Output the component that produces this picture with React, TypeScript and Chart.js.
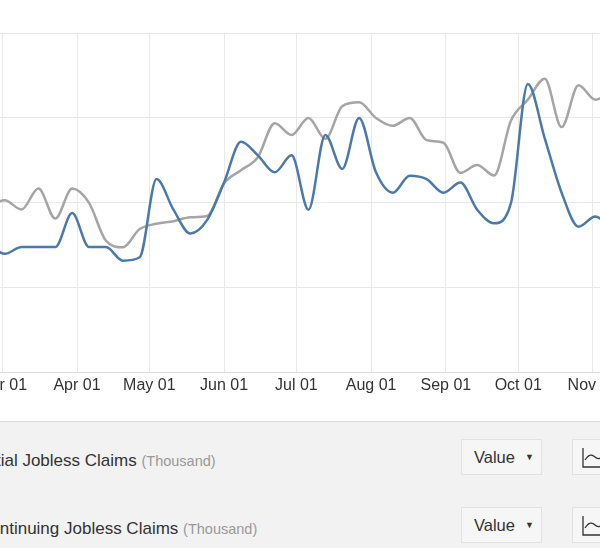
import React, { useEffect, useRef } from "react";
import { Chart, registerables } from "chart.js";

Chart.register(...registerables);

// Week-ending dates (2024)
const weekEnding = [
  "2024-02-24", "2024-03-02", "2024-03-09", "2024-03-16", "2024-03-23", "2024-03-30",
  "2024-04-06", "2024-04-13", "2024-04-20", "2024-04-27",
  "2024-05-04", "2024-05-11", "2024-05-18", "2024-05-25",
  "2024-06-01", "2024-06-08", "2024-06-15", "2024-06-22", "2024-06-29",
  "2024-07-06", "2024-07-13", "2024-07-20", "2024-07-27",
  "2024-08-03", "2024-08-10", "2024-08-17", "2024-08-24", "2024-08-31",
  "2024-09-07", "2024-09-14", "2024-09-21", "2024-09-28",
  "2024-10-05", "2024-10-12", "2024-10-19", "2024-10-26",
  "2024-11-02", "2024-11-09",
];

// Initial Jobless Claims (Thousand)
const initialClaims = [
  213, 210, 212, 212, 212, 222,
  212, 212, 208, 209,
  232, 223, 216, 220,
  231, 243, 239, 234, 239,
  223, 245, 235, 250,
  234, 228, 233, 232, 228,
  231, 223, 219, 225,
  260, 244, 228, 218,
  221, 217,
];

// Continuing Jobless Claims (Thousand)
const continuingClaims = [
  1797, 1802, 1795, 1811, 1788, 1811,
  1800, 1771, 1766, 1780,
  1784, 1786, 1789, 1790,
  1815, 1825, 1835, 1861, 1852,
  1865, 1849, 1874, 1877,
  1865, 1859, 1865, 1848, 1846,
  1823, 1829, 1821, 1863,
  1879, 1895, 1858, 1890,
  1879, 1885,
];

const monthTickDates = [
  "2024-03-01", "2024-04-01", "2024-05-01", "2024-06-01", "2024-07-01",
  "2024-08-01", "2024-09-01", "2024-10-01", "2024-11-01",
];
const monthTickLabels = [
  "Mar 01", "Apr 01", "May 01", "Jun 01", "Jul 01",
  "Aug 01", "Sep 01", "Oct 01", "Nov 01",
];

const seriesNames = ["Initial Jobless Claims", "Continuing Jobless Claims"];
const unitLabel = "(Thousand)";
const buttonLabel = "Value";

function dayOfYear(iso: string): number {
  const [y, m, d] = iso.split("-").map(Number);
  return (Date.UTC(y, m - 1, d) - Date.UTC(y, 0, 1)) / 86400000 + 1;
}

const FONT = "Arial, 'Liberation Sans', Helvetica, sans-serif";

function ChartCanvas() {
  const ref = useRef<HTMLCanvasElement | null>(null);
  useEffect(() => {
    if (!ref.current) return;
    const days = weekEnding.map(dayOfYear);
    const tickDays = monthTickDates.map(dayOfYear);
    const chart = new Chart(ref.current, {
      type: "line",
      data: {
        datasets: [
          {
            label: seriesNames[0],
            data: days.map((d, i) => ({ x: d, y: initialClaims[i] })),
            borderColor: "#4b79a9",
            backgroundColor: "#4b79a9",
            borderWidth: 2.5,
            pointRadius: 0,
            cubicInterpolationMode: "monotone",
            yAxisID: "y",
          },
          {
            label: seriesNames[1],
            data: days.map((d, i) => ({ x: d, y: continuingClaims[i] })),
            borderColor: "#a5a5a5",
            backgroundColor: "#a5a5a5",
            borderWidth: 2.5,
            pointRadius: 0,
            cubicInterpolationMode: "monotone",
            yAxisID: "y1",
          },
        ],
      },
      options: {
        animation: false,
        responsive: false,
        maintainAspectRatio: false,
        layout: { padding: { top: 33, left: 0, right: 0, bottom: 0 } },
        plugins: { legend: { display: false }, tooltip: { enabled: false } },
        scales: {
          x: {
            type: "linear",
            min: 26.88,
            max: 342.1,
            afterBuildTicks: (scale: any) => {
              scale.ticks = tickDays.map((v) => ({ value: v }));
            },
            ticks: {
              autoSkip: false,
              maxRotation: 0,
              minRotation: 0,
              color: "#333",
              padding: 3,
              font: { size: 16, family: FONT },
              callback: (_v: any, i: number) => monthTickLabels[i],
            },
            grid: { color: "#e9e9e9", drawTicks: false },
            border: { color: "#dadada" },
          },
          y: {
            position: "left",
            min: 175,
            max: 275,
            ticks: { display: false, stepSize: 25 },
            grid: { color: "#e9e9e9", drawTicks: false },
            border: { display: false },
          },
          y1: {
            display: false,
            min: 1670,
            max: 1930,
          },
        },
      },
    } as any);
    return () => chart.destroy();
  }, []);
  return <canvas ref={ref} width={760} height={398} style={{ width: 760, height: 398, display: "block" }} />;
}

function LegendRow({ top, name }: { top: number; name: string }) {
  return (
    <div style={{ position: "absolute", left: 0, top, width: 600, height: 36 }}>
      <div
        style={{
          position: "absolute",
          left: -22,
          top: 12,
          fontSize: 17,
          lineHeight: "20px",
          color: "#333",
          whiteSpace: "nowrap",
        }}
      >
        {name} <span style={{ fontSize: 14.5, color: "#999" }}>{unitLabel}</span>
      </div>
      <div
        style={{
          position: "absolute",
          left: 461,
          top: 0,
          width: 79,
          height: 34,
          background: "#f6f6f6",
          border: "1px solid #e2e2e2",
          color: "#333",
          fontSize: 16.5,
          lineHeight: "34px",
          whiteSpace: "nowrap",
        }}
      >
        <span style={{ position: "absolute", left: 12, top: 0 }}>{buttonLabel}</span>
        <span style={{ position: "absolute", left: 63, top: 0, fontSize: 9 }}>▼</span>
      </div>
      <div
        style={{
          position: "absolute",
          left: 572,
          top: 0,
          width: 60,
          height: 34,
          background: "#f6f6f6",
          border: "1px solid #e2e2e2",
        }}
      >
        <svg width="40" height="34" style={{ position: "absolute", left: 8, top: 0 }}>
          <path d="M2 8 V27 H30" stroke="#333" strokeWidth="1.3" fill="none" />
          <path d="M4 20 C8 14, 11 14, 14 17 S 20 19, 24 13" stroke="#333" strokeWidth="1.3" fill="none" />
        </svg>
      </div>
    </div>
  );
}

export default function App() {
  return (
    <div
      style={{
        position: "fixed",
        left: 0,
        top: 0,
        width: 600,
        height: 548,
        overflow: "hidden",
        background: "#fff",
        fontFamily: FONT,
      }}
    >
      <div style={{ position: "absolute", left: -80, top: 0, width: 760, height: 398 }}>
        <ChartCanvas />
      </div>
      <div
        style={{
          position: "absolute",
          left: 0,
          top: 421,
          width: 600,
          height: 127,
          background: "#f2f2f2",
          borderTop: "1px solid #dcdcdc",
        }}
      >
        <LegendRow top={17} name={seriesNames[0]} />
        <LegendRow top={85} name={seriesNames[1]} />
      </div>
    </div>
  );
}
